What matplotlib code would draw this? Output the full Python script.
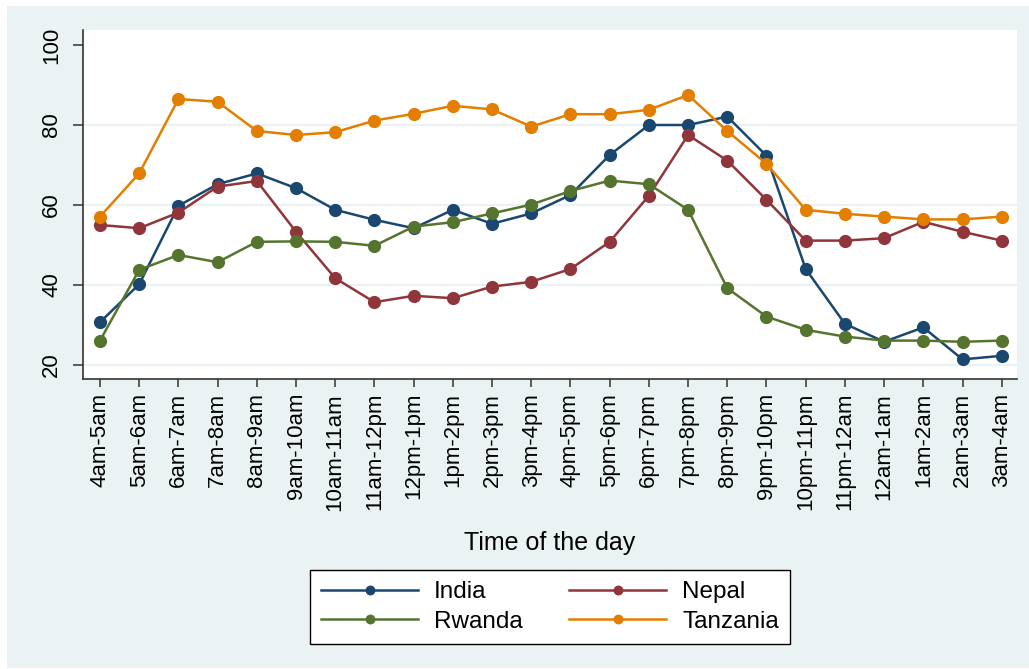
import matplotlib
matplotlib.use("Agg")
import matplotlib.pyplot as plt
from matplotlib.patches import Rectangle

plt.rcParams['font.family'] = ['Liberation Sans', 'DejaVu Sans']

# time slots (x axis)
slots = ['4am-5am', '5am-6am', '6am-7am', '7am-8am', '8am-9am', '9am-10am',
         '10am-11am', '11am-12pm', '12pm-1pm', '1pm-2pm', '2pm-3pm', '3pm-4pm',
         '4pm-5pm', '5pm-6pm', '6pm-7pm', '7pm-8pm', '8pm-9pm', '9pm-10pm',
         '10pm-11pm', '11pm-12am', '12am-1am', '1am-2am', '2am-3am', '3am-4am']

india = [30.7, 40.2, 59.8, 65.2, 67.9, 64.2, 58.8, 56.3, 54.2, 58.8, 55.3, 57.9,
         62.5, 72.5, 80.0, 80.0, 82.1, 72.3, 44.0, 30.3, 25.8, 29.4, 21.4, 22.3]
nepal = [55.0, 54.2, 58.1, 64.6, 66.0, 53.3, 41.7, 35.7, 37.3, 36.7, 39.6, 40.8,
         44.0, 50.8, 62.3, 77.5, 71.1, 61.3, 51.1, 51.1, 51.7, 55.8, 53.3, 51.1]
rwanda = [26.1, 43.8, 47.5, 45.7, 50.8, 50.9, 50.8, 49.8, 54.6, 55.7, 57.9, 60.1,
          63.5, 66.1, 65.2, 58.8, 39.2, 32.1, 28.8, 27.1, 26.1, 26.1, 25.8, 26.1]
tanzania = [57.1, 67.9, 86.5, 85.8, 78.5, 77.5, 78.2, 81.1, 82.8, 84.8, 83.9, 79.6,
            82.7, 82.7, 83.8, 87.5, 78.5, 70.3, 58.8, 57.8, 57.1, 56.4, 56.4, 57.1]

series = [('India', india, '#1A476F'),
          ('Nepal', nepal, '#90353B'),
          ('Rwanda', rwanda, '#55752F'),
          ('Tanzania', tanzania, '#E37E00')]

bg = '#EAF2F3'
W, H = 1029, 669
fig = plt.figure(figsize=(W / 100, H / 100), dpi=100, facecolor='white')
# stata-style outer region (small white strip on left/top)
fig.add_artist(Rectangle((7 / W, 1 / H), 1 - 7 / W, (H - 7) / H,
                         transform=fig.transFigure, facecolor=bg,
                         edgecolor='none', zorder=-10))

ax = fig.add_axes([83 / W, 1 - 379 / H, (1017 - 83) / W, (379 - 30) / H])
ax.set_facecolor('white')

x = list(range(len(slots)))
for yv in [20, 40, 60, 80]:
    ax.axhline(yv, color=bg, lw=1.5, zorder=1)

lines = {}
for name, vals, col in series:
    lines[name], = ax.plot(x, vals, color=col, lw=1.8, marker='o', markersize=9.5,
                           markeredgewidth=0, label=name, zorder=3)

ax.set_xlim(-0.434, 23.39)
ax.set_ylim(16.5, 103.75)
ax.set_yticks([20, 40, 60, 80, 100])
ax.set_yticklabels(['20', '40', '60', '80', '100'], rotation=90, va='center')
ax.set_xticks(x)
ax.set_xticklabels(slots, rotation=90)

for s in ['top', 'right']:
    ax.spines[s].set_visible(False)
for s in ['left', 'bottom']:
    ax.spines[s].set_color('#333333')
    ax.spines[s].set_linewidth(1.2)

ax.tick_params(axis='y', length=7, width=1.1, color='#333333', labelsize=16, pad=8)
ax.tick_params(axis='x', length=6, width=1.1, color='#333333', labelsize=16, pad=4)

ax.set_xlabel('Time of the day', fontsize=18)
ax.xaxis.set_label_coords(0.5, (379 - 543) / (379 - 30))
ax.xaxis.label.set_va('center')

# legend filled row-wise like Stata
order = ['India', 'Rwanda', 'Nepal', 'Tanzania']
leg = fig.legend([lines[n] for n in order], order, loc='center',
                 bbox_to_anchor=(550 / W, 1 - 607 / H), ncol=2,
                 fontsize=17.5, frameon=True, fancybox=False, framealpha=1,
                 handlelength=4, handletextpad=0.65, columnspacing=1.9,
                 labelspacing=0.3, borderpad=0.45, markerscale=0.75)
leg.get_frame().set_edgecolor('black')
leg.get_frame().set_linewidth(1.0)
leg.get_frame().set_facecolor('white')

fig.savefig('out.png', dpi=100, facecolor=fig.get_facecolor())
